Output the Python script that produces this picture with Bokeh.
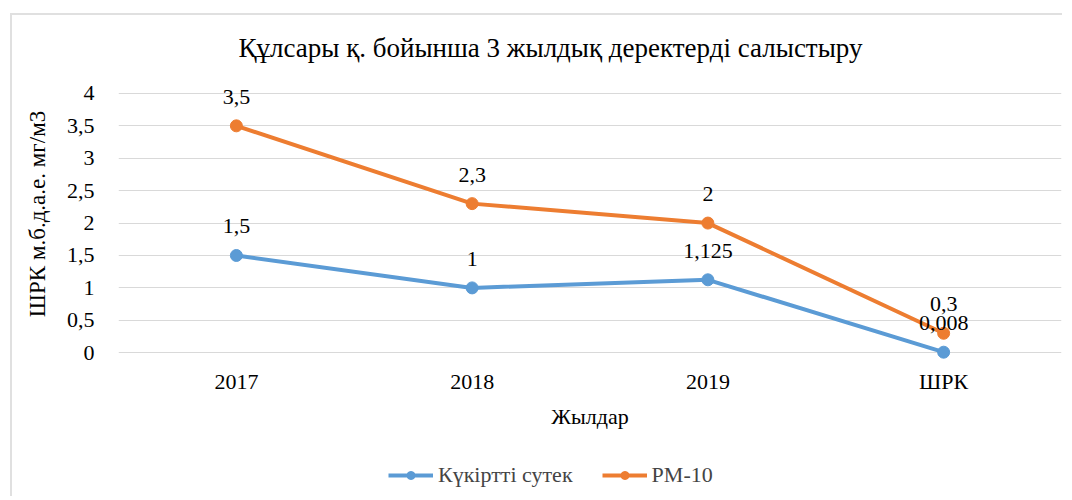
from bokeh.plotting import figure
from bokeh.layouts import column
from bokeh.core.properties import value
from bokeh.models import Range1d, FactorRange, Legend, LegendItem, ColumnDataSource, LabelSet
from bokeh.embed import file_html
from bokeh.resources import INLINE

categories = ["2017", "2018", "2019", "ШРК"]
h2s = [1.5, 1.0, 1.125, 0.008]
pm10 = [3.5, 2.3, 2.0, 0.3]
h2s_labels = ["1,5", "1", "1,125", "0,008"]
pm10_labels = ["3,5", "2,3", "2", "0,3"]
series_names = ["Күкіртті сутек", "РМ-10"]
y_ticks = [0, 0.5, 1, 1.5, 2, 2.5, 3, 3.5, 4]
y_tick_labels = {0: "0", 0.5: "0,5", 1: "1", 1.5: "1,5", 2: "2", 2.5: "2,5", 3: "3", 3.5: "3,5", 4: "4"}

FONT = "Liberation Serif"
BLUE = "#5B9BD5"
ORANGE = "#ED7D31"

p = figure(width=1062, height=440, x_range=FactorRange(*categories, range_padding=0),
           y_range=Range1d(-0.12, 4.4), output_backend="svg", toolbar_location=None,
           min_border_left=118, min_border_right=1, min_border_top=67, min_border_bottom=80,
           title="Құлсары қ. бойынша 3 жылдық деректерді салыстыру")
p.border_fill_color = None
p.background_fill_color = None
p.title.align = "left"
p.title.text_font = FONT
p.title.text_font_size = "27px"
p.title.text_font_style = "normal"
p.title.text_color = "#000000"
p.title.offset = 120
p.title.standoff = 10
p.outline_line_color = None

p.xgrid.grid_line_color = None
p.ygrid.grid_line_color = "#d9d9d9"
p.ygrid.ticker = y_ticks
p.yaxis.ticker = y_ticks
p.yaxis.major_label_overrides = y_tick_labels
for ax in (p.xaxis, p.yaxis):
    ax.axis_line_color = None
    ax.major_tick_line_color = None
    ax.minor_tick_line_color = None
    ax.major_label_text_font = FONT
    ax.major_label_text_font_size = "22px"
    ax.major_label_text_color = "#000000"
    ax.axis_label_text_font = FONT
    ax.axis_label_text_font_size = "22px"
    ax.axis_label_text_font_style = "normal"
    ax.axis_label_text_color = "#000000"
p.xaxis.axis_label = "Жылдар"
p.xaxis.major_label_standoff = 2
p.xaxis.axis_label_standoff = 7
p.yaxis.axis_label = "ШРК м.б.д.а.е. мг/м3"
p.yaxis.axis_label_text_font_size = "23px"
p.yaxis.major_label_standoff = 18
p.yaxis.axis_label_standoff = 14

src_a = ColumnDataSource(dict(x=categories, y=h2s, t=h2s_labels))
src_b = ColumnDataSource(dict(x=categories, y=pm10, t=pm10_labels))

p.line("x", "y", source=src_a, line_color=BLUE, line_width=4)
p.scatter("x", "y", source=src_a, size=12, fill_color=BLUE, line_color=BLUE)
p.line("x", "y", source=src_b, line_color=ORANGE, line_width=4)
p.scatter("x", "y", source=src_b, size=12, fill_color=ORANGE, line_color=ORANGE)

for src in (src_a, src_b):
    p.add_layout(LabelSet(x="x", y="y", text="t", source=src, y_offset=29,
                          text_align="center", text_baseline="middle",
                          text_font=value(FONT), text_font_size=value("22px"),
                          text_color="#000000"))

# legend strip below the chart (swatch renderers sit outside the visible range)
lg = figure(width=1062, height=56, x_range=Range1d(0, 1), y_range=Range1d(0, 1),
            output_backend="svg", toolbar_location=None,
            min_border_left=0, min_border_right=0, min_border_top=0, min_border_bottom=0)
lg.border_fill_color = None
lg.background_fill_color = None
lg.axis.visible = False
lg.grid.visible = False
lg.outline_line_color = None
ra = [lg.line([-10, -9], [-10, -9], line_color=BLUE, line_width=4),
      lg.scatter([-10], [-10], size=10, fill_color=BLUE, line_color=BLUE)]
rb = [lg.line([-10, -9], [-10, -9], line_color=ORANGE, line_width=4),
      lg.scatter([-10], [-10], size=10, fill_color=ORANGE, line_color=ORANGE)]
legend = Legend(items=[LegendItem(label=series_names[0], renderers=ra),
                       LegendItem(label=series_names[1], renderers=rb)],
                orientation="horizontal", location=(270, 8),
                label_text_font=FONT, label_text_font_size="22px",
                glyph_width=45, label_standoff=5, spacing=29, padding=6, margin=0,
                border_line_color=None, background_fill_alpha=0)
lg.add_layout(legend, "center")

frame_css = ("linear-gradient(#e0e0e0, #e0e0e0) 10px 13px / 100% 2px no-repeat, "
             "linear-gradient(#e0e0e0, #e0e0e0) 10px 13px / 2px 100% no-repeat, #ffffff")
layout = column(p, lg, spacing=0, styles={"background": frame_css})
open("out.html", "w").write(file_html(layout, INLINE))
